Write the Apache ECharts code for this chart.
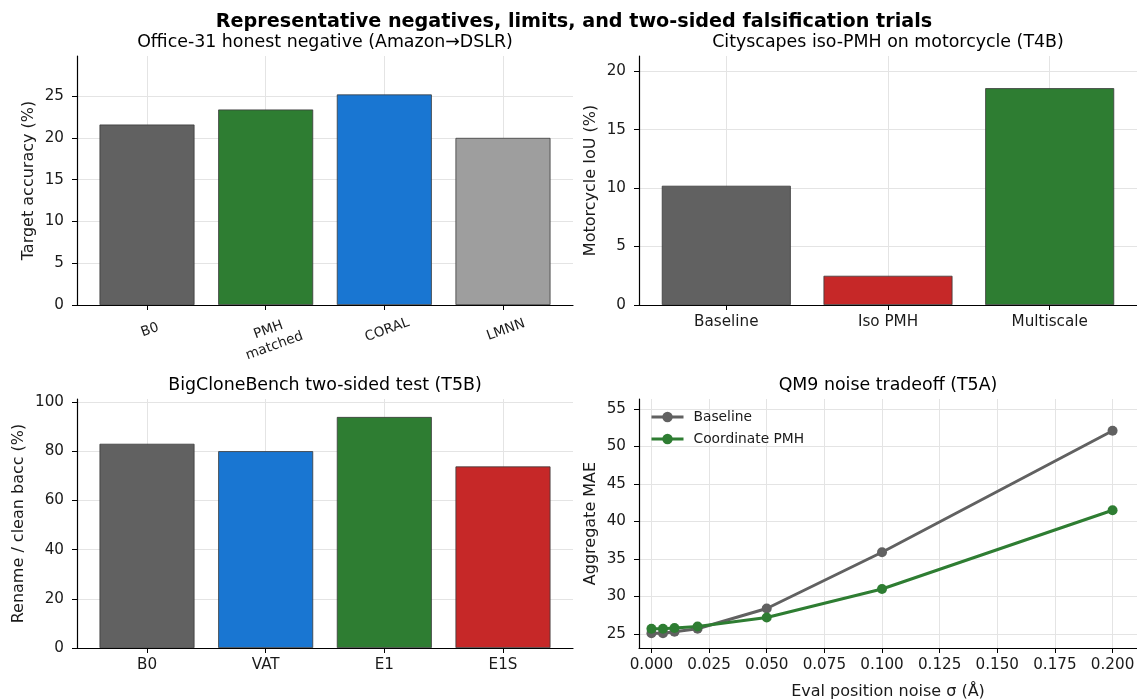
<!DOCTYPE html>
<html>
<head>
<meta charset="utf-8">
<script src="https://cdn.jsdelivr.net/npm/echarts@6/dist/echarts.min.js"></script>
<style>
  html, body { margin: 0; padding: 0; background: #fff; }
  #main { width: 1137px; height: 700px; }
</style>
</head>
<body>
<div id="main"></div>
<script>
// ---- data ----
var officeCats = ['B0', 'PMH\nmatched', 'CORAL', 'LMNN'];
var officeVals = [21.6, 23.4, 25.2, 20.0];

var cityCats = ['Baseline', 'Iso PMH', 'Multiscale'];
var cityVals = [10.2, 2.5, 18.55];

var cloneCats = ['B0', 'VAT', 'E1', 'E1S'];
var cloneVals = [83.0, 80.0, 93.9, 73.8];

var noiseSigma = [0, 0.005, 0.01, 0.02, 0.05, 0.1, 0.2];
var baselineMae = [25.1, 25.1, 25.3, 25.7, 28.4, 35.9, 52.1];
var pmhMae = [25.7, 25.7, 25.8, 26.0, 27.2, 31.0, 41.5];

var yTicksOffice = [0, 5, 10, 15, 20, 25];
var yTicksCity = [0, 5, 10, 15, 20];
var yTicksClone = [0, 20, 40, 60, 80, 100];
var yTicksNoise = [25, 30, 35, 40, 45, 50, 55];
var xTicksNoise = [0, 0.025, 0.05, 0.075, 0.1, 0.125, 0.15, 0.175, 0.2];

// colours
var GRAY = '#616161', GREEN = '#2e7d32', BLUE = '#1976d2', LGRAY = '#9e9e9e', RED = '#c62828';
var officeColors = [GRAY, GREEN, BLUE, LGRAY];
var cityColors = [GRAY, RED, GREEN];
var cloneColors = [GRAY, BLUE, GREEN, RED];

var FONT = 'DejaVu Sans';
var TXT = '#1a1a1a';
var TICK_FS = 15.2;
var NAME_FS = 16;

function idx(arr) { return arr.map(function (_, i) { return i; }); }

function barData(vals, colors) {
  return vals.map(function (v, i) {
    return { value: [i, v], itemStyle: { color: colors[i] } };
  });
}

function catXAxis(gi, cats, min, max, labelExtra) {
  var lab = {
    customValues: idx(cats),
    formatter: function (v) { return cats[Math.round(v)]; },
    color: TXT, fontFamily: FONT, fontSize: TICK_FS, margin: 10
  };
  if (labelExtra) for (var k in labelExtra) lab[k] = labelExtra[k];
  return {
    type: 'value', gridIndex: gi, min: min, max: max,
    axisLine: { show: true, onZero: false, lineStyle: { color: '#000', width: 1.2 } },
    axisTick: { show: true, customValues: idx(cats), length: 5, lineStyle: { color: '#000', width: 1 } },
    axisLabel: lab,
    splitLine: { show: true, lineStyle: { color: '#e4e4e4', width: 1 } }
  };
}

function valYAxis(gi, min, max, ticks, name, gap) {
  return {
    type: 'value', gridIndex: gi, min: min, max: max,
    name: name, nameLocation: 'middle', nameGap: gap,
    nameTextStyle: { color: TXT, fontFamily: FONT, fontSize: NAME_FS },
    axisLine: { show: true, onZero: false, lineStyle: { color: '#000', width: 1.2 } },
    axisTick: { show: true, customValues: ticks, length: 5, lineStyle: { color: '#000', width: 1 } },
    axisLabel: { customValues: ticks, color: TXT, fontFamily: FONT, fontSize: TICK_FS, margin: 13 },
    splitLine: { show: true, lineStyle: { color: '#e4e4e4', width: 1 } }
  };
}

function title(text, x, y, size, weight) {
  return {
    type: 'text', x: x, y: y, silent: true,
    style: {
      text: text, fill: '#000', fontFamily: FONT, fontSize: size, fontWeight: weight || 'normal',
      align: 'center', verticalAlign: 'middle', textAlign: 'center', textVerticalAlign: 'middle'
    }
  };
}

var chart = echarts.init(document.getElementById('main'), null, { renderer: 'canvas' });

var barEdge = { borderColor: '#3a3a3a', borderWidth: 0.8 };

var option = {
  animation: false,
  backgroundColor: '#fff',
  grid: [
    { left: 77, top: 56, width: 496, height: 249, outerBoundsMode: 'none', containLabel: false },
    { left: 639, top: 56, width: 498, height: 249, outerBoundsMode: 'none', containLabel: false },
    { left: 77, top: 399, width: 496, height: 249, outerBoundsMode: 'none', containLabel: false },
    { left: 639, top: 399, width: 498, height: 249, outerBoundsMode: 'none', containLabel: false }
  ],
  graphic: [
    title('Representative negatives, limits, and two-sided falsification trials', 574, 22, 19.2, 'bold'),
    title('Office-31 honest negative (Amazon\u2192DSLR)', 325, 42, 17.4),
    title('Cityscapes iso-PMH on motorcycle (T4B)', 888, 42, 17.4),
    title('BigCloneBench two-sided test (T5B)', 325, 385, 17.4),
    title('QM9 noise tradeoff (T5A)', 888, 385, 17.4)
  ],
  xAxis: [
    catXAxis(0, officeCats, -0.59, 3.59, { rotate: 20, fontSize: 13.6, align: 'center', verticalAlign: 'top', margin: 17, lineHeight: 17 }),
    catXAxis(1, cityCats, -0.54, 2.54),
    catXAxis(2, cloneCats, -0.59, 3.59),
    {
      type: 'value', gridIndex: 3, min: -0.0054, max: 0.2106,
      name: 'Eval position noise \u03c3 (\u00c5)', nameLocation: 'middle', nameGap: 36,
      nameTextStyle: { color: TXT, fontFamily: FONT, fontSize: NAME_FS },
      axisLine: { show: true, onZero: false, lineStyle: { color: '#000', width: 1.2 } },
      axisTick: { show: true, customValues: xTicksNoise, length: 5, lineStyle: { color: '#000', width: 1 } },
      axisLabel: {
        customValues: xTicksNoise, color: TXT, fontFamily: FONT, fontSize: TICK_FS, margin: 10,
        formatter: function (v) { return v.toFixed(3); }
      },
      splitLine: { show: true, lineStyle: { color: '#e4e4e4', width: 1 } }
    }
  ],
  yAxis: [
    valYAxis(0, 0, 29.8, yTicksOffice, 'Target accuracy (%)', 40),
    valYAxis(1, 0, 21.3, yTicksCity, 'Motorcycle IoU (%)', 40),
    valYAxis(2, 0, 101.2, yTicksClone, 'Rename / clean bacc (%)', 50),
    valYAxis(3, 23.13, 56.33, yTicksNoise, 'Aggregate MAE', 40)
  ],
  legend: {
    data: ['Baseline', 'Coordinate PMH'],
    orient: 'vertical', left: 645, top: 405,
    itemWidth: 32, itemHeight: 13, itemGap: 8,
    lineStyle: { width: 3 },
    textStyle: { color: TXT, fontFamily: FONT, fontSize: 13.8, padding: [0, 0, 0, 5] }
  },
  series: [
    { type: 'bar', xAxisIndex: 0, yAxisIndex: 0, barWidth: 95, data: barData(officeVals, officeColors), itemStyle: barEdge },
    { type: 'bar', xAxisIndex: 1, yAxisIndex: 1, barWidth: 129, data: barData(cityVals, cityColors), itemStyle: barEdge },
    { type: 'bar', xAxisIndex: 2, yAxisIndex: 2, barWidth: 95, data: barData(cloneVals, cloneColors), itemStyle: barEdge },
    {
      name: 'Baseline', type: 'line', xAxisIndex: 3, yAxisIndex: 3,
      data: noiseSigma.map(function (x, i) { return [x, baselineMae[i]]; }),
      symbol: 'circle', symbolSize: 10,
      lineStyle: { color: GRAY, width: 3 }, itemStyle: { color: GRAY }
    },
    {
      name: 'Coordinate PMH', type: 'line', xAxisIndex: 3, yAxisIndex: 3,
      data: noiseSigma.map(function (x, i) { return [x, pmhMae[i]]; }),
      symbol: 'circle', symbolSize: 10,
      lineStyle: { color: GREEN, width: 3 }, itemStyle: { color: GREEN }
    }
  ]
};

chart.setOption(option);
</script>
</body>
</html>
